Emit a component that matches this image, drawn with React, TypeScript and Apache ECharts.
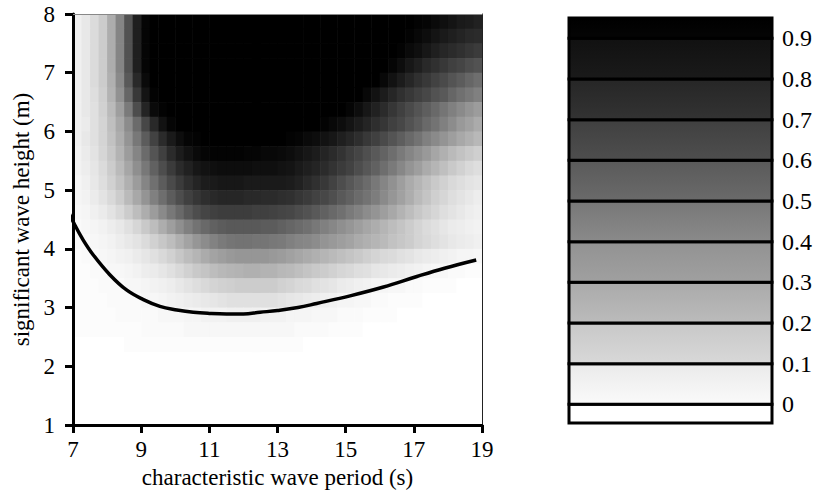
import React, { useEffect, useRef } from 'react';
import * as echarts from 'echarts';

// ---- data ----
const cellWidth = 0.25;
const cellHeight = 0.25;
const periodCenters = [7.125, 7.375, 7.625, 7.875, 8.125, 8.375, 8.625, 8.875, 9.125, 9.375, 9.625, 9.875, 10.125, 10.375, 10.625, 10.875, 11.125, 11.375, 11.625, 11.875, 12.125, 12.375, 12.625, 12.875, 13.125, 13.375, 13.625, 13.875, 14.125, 14.375, 14.625, 14.875, 15.125, 15.375, 15.625, 15.875, 16.125, 16.375, 16.625, 16.875, 17.125, 17.375, 17.625, 17.875, 18.125, 18.375, 18.625, 18.875];
const heightCenters = [7.875, 7.625, 7.375, 7.125, 6.875, 6.625, 6.375, 6.125, 5.875, 5.625, 5.375, 5.125, 4.875, 4.625, 4.375, 4.125, 3.875, 3.625, 3.375, 3.125, 2.875, 2.625, 2.375];
const probRows = [
  [0.06, 0.09, 0.14, 0.2, 0.32, 0.48, 0.68, 0.88, 0.98, 1, 1, 1, 1, 1, 1, 1, 1, 1, 1, 1, 1, 1, 1, 1, 1, 1, 1, 1, 1, 1, 1, 1, 1, 1, 1, 1, 1, 1, 1, 1, 0.99, 0.98, 0.96, 0.94, 0.92, 0.9, 0.89, 0.87],
  [0.06, 0.09, 0.14, 0.2, 0.32, 0.48, 0.68, 0.88, 0.98, 1, 1, 1, 1, 1, 1, 1, 1, 1, 1, 1, 1, 1, 1, 1, 1, 1, 1, 1, 1, 1, 1, 1, 1, 1, 1, 1, 1, 1, 1, 0.99, 0.97, 0.95, 0.92, 0.9, 0.88, 0.86, 0.84, 0.83],
  [0.06, 0.09, 0.14, 0.2, 0.32, 0.48, 0.68, 0.88, 0.98, 1, 1, 1, 1, 1, 1, 1, 1, 1, 1, 1, 1, 1, 1, 1, 1, 1, 1, 1, 1, 1, 1, 1, 1, 1, 1, 1, 1, 1, 0.99, 0.96, 0.94, 0.91, 0.88, 0.85, 0.83, 0.81, 0.79, 0.77],
  [0.06, 0.09, 0.14, 0.2, 0.32, 0.48, 0.68, 0.88, 0.98, 1, 1, 1, 1, 1, 1, 1, 1, 1, 1, 1, 1, 1, 1, 1, 1, 1, 1, 1, 1, 1, 1, 1, 1, 1, 1, 1, 1, 0.98, 0.95, 0.91, 0.88, 0.84, 0.81, 0.78, 0.75, 0.73, 0.7, 0.68],
  [0.06, 0.09, 0.14, 0.2, 0.31, 0.46, 0.65, 0.84, 0.96, 1, 1, 1, 1, 1, 1, 1, 1, 1, 1, 1, 1, 1, 1, 1, 1, 1, 1, 1, 1, 1, 1, 1, 1, 1, 1, 1, 0.97, 0.93, 0.89, 0.85, 0.81, 0.78, 0.74, 0.71, 0.67, 0.64, 0.6, 0.57],
  [0.06, 0.09, 0.13, 0.19, 0.3, 0.43, 0.6, 0.78, 0.92, 0.99, 1, 1, 1, 1, 1, 1, 1, 1, 1, 1, 1, 1, 1, 1, 1, 1, 1, 1, 1, 1, 1, 1, 1, 1, 0.97, 0.93, 0.89, 0.85, 0.81, 0.78, 0.75, 0.72, 0.68, 0.65, 0.6, 0.56, 0.53, 0.5],
  [0.06, 0.09, 0.12, 0.18, 0.27, 0.38, 0.52, 0.7, 0.86, 0.96, 0.99, 1, 1, 1, 1, 1, 1, 1, 1, 1, 1, 1, 1, 1, 1, 1, 1, 1, 1, 1, 1, 1, 0.98, 0.95, 0.91, 0.87, 0.83, 0.79, 0.75, 0.71, 0.67, 0.63, 0.59, 0.54, 0.5, 0.46, 0.42, 0.39],
  [0.06, 0.08, 0.12, 0.17, 0.25, 0.34, 0.45, 0.58, 0.72, 0.84, 0.93, 0.98, 1, 1, 1, 1, 1, 1, 1, 1, 1, 1, 1, 1, 1, 1, 1, 1, 1, 0.99, 0.97, 0.95, 0.92, 0.89, 0.86, 0.82, 0.79, 0.75, 0.72, 0.68, 0.64, 0.59, 0.55, 0.5, 0.45, 0.4, 0.37, 0.33],
  [0.06, 0.09, 0.12, 0.17, 0.24, 0.32, 0.42, 0.53, 0.64, 0.74, 0.83, 0.9, 0.95, 0.98, 0.99, 1, 1, 1, 1, 1, 1, 1, 1, 1, 1, 0.99, 0.98, 0.96, 0.95, 0.93, 0.91, 0.88, 0.85, 0.82, 0.78, 0.75, 0.71, 0.67, 0.63, 0.59, 0.55, 0.5, 0.46, 0.42, 0.38, 0.34, 0.31, 0.28],
  [0.05, 0.08, 0.11, 0.16, 0.22, 0.3, 0.39, 0.48, 0.58, 0.67, 0.75, 0.83, 0.89, 0.93, 0.96, 0.98, 0.99, 0.99, 0.99, 0.99, 0.98, 0.98, 0.97, 0.97, 0.96, 0.95, 0.93, 0.91, 0.89, 0.86, 0.83, 0.8, 0.76, 0.73, 0.69, 0.65, 0.61, 0.57, 0.52, 0.48, 0.44, 0.4, 0.35, 0.31, 0.27, 0.24, 0.21, 0.19],
  [0.05, 0.07, 0.1, 0.14, 0.2, 0.27, 0.35, 0.44, 0.53, 0.62, 0.7, 0.77, 0.83, 0.87, 0.91, 0.93, 0.94, 0.95, 0.95, 0.95, 0.95, 0.94, 0.94, 0.94, 0.93, 0.92, 0.9, 0.88, 0.86, 0.83, 0.8, 0.77, 0.74, 0.7, 0.66, 0.62, 0.57, 0.52, 0.47, 0.42, 0.38, 0.33, 0.29, 0.25, 0.21, 0.18, 0.15, 0.13],
  [0.04, 0.06, 0.09, 0.13, 0.18, 0.24, 0.31, 0.39, 0.48, 0.56, 0.64, 0.71, 0.77, 0.82, 0.86, 0.89, 0.9, 0.91, 0.91, 0.91, 0.9, 0.9, 0.9, 0.9, 0.9, 0.89, 0.87, 0.84, 0.81, 0.78, 0.74, 0.7, 0.66, 0.62, 0.58, 0.53, 0.48, 0.43, 0.38, 0.33, 0.29, 0.25, 0.21, 0.18, 0.15, 0.13, 0.11, 0.1],
  [0.04, 0.05, 0.08, 0.11, 0.15, 0.2, 0.27, 0.34, 0.42, 0.5, 0.57, 0.64, 0.7, 0.75, 0.79, 0.82, 0.84, 0.85, 0.85, 0.85, 0.84, 0.84, 0.83, 0.83, 0.82, 0.81, 0.79, 0.77, 0.74, 0.72, 0.69, 0.65, 0.62, 0.58, 0.55, 0.51, 0.46, 0.41, 0.37, 0.32, 0.27, 0.23, 0.19, 0.16, 0.13, 0.11, 0.09, 0.07],
  [0.03, 0.04, 0.06, 0.08, 0.11, 0.15, 0.2, 0.26, 0.32, 0.39, 0.46, 0.53, 0.59, 0.65, 0.7, 0.73, 0.75, 0.76, 0.76, 0.76, 0.76, 0.75, 0.75, 0.74, 0.73, 0.72, 0.7, 0.68, 0.65, 0.62, 0.59, 0.56, 0.52, 0.49, 0.45, 0.42, 0.38, 0.34, 0.3, 0.26, 0.22, 0.19, 0.16, 0.13, 0.11, 0.09, 0.07, 0.06],
  [0.02, 0.03, 0.04, 0.05, 0.07, 0.09, 0.12, 0.16, 0.21, 0.26, 0.32, 0.38, 0.44, 0.5, 0.55, 0.59, 0.62, 0.64, 0.65, 0.65, 0.65, 0.65, 0.64, 0.64, 0.62, 0.6, 0.58, 0.56, 0.53, 0.5, 0.47, 0.44, 0.41, 0.38, 0.35, 0.32, 0.29, 0.26, 0.23, 0.2, 0.17, 0.14, 0.12, 0.1, 0.08, 0.07, 0.06, 0.05],
  [0.02, 0.02, 0.03, 0.04, 0.05, 0.07, 0.09, 0.11, 0.14, 0.18, 0.22, 0.26, 0.31, 0.36, 0.41, 0.45, 0.49, 0.52, 0.54, 0.55, 0.55, 0.54, 0.54, 0.53, 0.52, 0.5, 0.48, 0.47, 0.45, 0.42, 0.4, 0.38, 0.36, 0.33, 0.31, 0.29, 0.27, 0.24, 0.22, 0.2, 0.17, 0.15, 0.13, 0.11, 0.09, 0.08, 0.07, 0.06],
  [0.01, 0.02, 0.02, 0.03, 0.04, 0.05, 0.06, 0.08, 0.1, 0.12, 0.15, 0.18, 0.22, 0.26, 0.29, 0.33, 0.36, 0.38, 0.4, 0.41, 0.41, 0.41, 0.41, 0.4, 0.39, 0.37, 0.35, 0.33, 0.31, 0.29, 0.27, 0.25, 0.23, 0.21, 0.19, 0.17, 0.15, 0.14, 0.12, 0.11, 0.09, 0.08, 0.07, 0.06, 0.05, 0.04, 0.04, 0.03],
  [0.01, 0.01, 0.02, 0.02, 0.03, 0.03, 0.04, 0.05, 0.07, 0.08, 0.1, 0.12, 0.15, 0.18, 0.21, 0.23, 0.26, 0.28, 0.29, 0.3, 0.31, 0.31, 0.3, 0.3, 0.28, 0.27, 0.25, 0.23, 0.21, 0.2, 0.18, 0.16, 0.15, 0.13, 0.12, 0.1, 0.09, 0.08, 0.07, 0.06, 0.05, 0.04, 0.03, 0.03, 0.02, 0.02, 0.01, 0.01],
  [0.01, 0.01, 0.01, 0.02, 0.02, 0.02, 0.03, 0.03, 0.04, 0.05, 0.06, 0.07, 0.09, 0.11, 0.13, 0.15, 0.17, 0.18, 0.19, 0.2, 0.2, 0.2, 0.2, 0.2, 0.18, 0.17, 0.15, 0.14, 0.12, 0.11, 0.1, 0.08, 0.07, 0.06, 0.05, 0.04, 0.04, 0.03, 0.03, 0.02, 0.02, 0.01, 0.01, 0.01, 0.01, 0, 0, 0],
  [0.01, 0.01, 0.01, 0.01, 0.02, 0.02, 0.02, 0.02, 0.03, 0.03, 0.04, 0.05, 0.06, 0.07, 0.08, 0.09, 0.1, 0.11, 0.12, 0.12, 0.12, 0.12, 0.12, 0.12, 0.11, 0.1, 0.09, 0.08, 0.07, 0.06, 0.05, 0.04, 0.04, 0.03, 0.03, 0.02, 0.02, 0.01, 0.01, 0.01, 0.01, 0, 0, 0, 0, 0, 0, 0],
  [0.01, 0.01, 0.01, 0.01, 0.01, 0.02, 0.02, 0.02, 0.02, 0.02, 0.03, 0.03, 0.03, 0.04, 0.04, 0.05, 0.05, 0.05, 0.06, 0.06, 0.06, 0.06, 0.05, 0.05, 0.05, 0.04, 0.04, 0.04, 0.03, 0.03, 0.03, 0.02, 0.02, 0.02, 0.01, 0.01, 0.01, 0.01, 0, 0, 0, 0, 0, 0, 0, 0, 0, 0],
  [0.01, 0.01, 0.01, 0.01, 0.01, 0.01, 0.01, 0.01, 0.02, 0.02, 0.02, 0.02, 0.02, 0.03, 0.03, 0.03, 0.03, 0.03, 0.03, 0.03, 0.03, 0.03, 0.03, 0.03, 0.03, 0.03, 0.02, 0.02, 0.02, 0.02, 0.01, 0.01, 0.01, 0.01, 0, 0, 0, 0, 0, 0, 0, 0, 0, 0, 0, 0, 0, 0],
  [0, 0, 0, 0, 0, 0, 0.01, 0.01, 0.01, 0.01, 0.01, 0.01, 0.01, 0.01, 0.01, 0.01, 0.01, 0.01, 0.01, 0.01, 0.01, 0.01, 0.01, 0.01, 0.01, 0.01, 0.01, 0, 0, 0, 0, 0, 0, 0, 0, 0, 0, 0, 0, 0, 0, 0, 0, 0, 0, 0, 0, 0],
];
const curvePeriods = [6.82, 7.05, 7.3, 7.59, 8.08, 8.57, 9.05, 9.55, 10.05, 10.53, 11.0, 11.5, 12.0, 12.49, 13.0, 13.6, 14.15, 15.13, 16.11, 17.09, 17.9, 18.83];
const curveHeights = [4.69, 4.41, 4.15, 3.9, 3.56, 3.3, 3.14, 3.02, 2.96, 2.92, 2.9, 2.89, 2.89, 2.92, 2.95, 3.0, 3.07, 3.2, 3.35, 3.53, 3.67, 3.81];
const xTicks = [7, 9, 11, 13, 15, 17, 19];
const yTicks = [1, 2, 3, 4, 5, 6, 7, 8];
const colorbarTicks = [0, 0.1, 0.2, 0.3, 0.4, 0.5, 0.6, 0.7, 0.8, 0.9];
const colorbarBandLow = [-0.046, 0, 0.1, 0.2, 0.3, 0.4, 0.5, 0.6, 0.7, 0.8, 0.9];
const colorbarBandHigh = [0, 0.1, 0.2, 0.3, 0.4, 0.5, 0.6, 0.7, 0.8, 0.9, 0.95];

// ---- styles ----
const bandTopColors = ['#ffffff', '#eaeaea', '#c8c8c8', '#aaaaaa', '#929292', '#777777', '#5a5a5a', '#404040', '#262626', '#111111', '#000000'];
const bandBottomColors = ['#ffffff', '#fafafa', '#d8d8d8', '#bbbbbb', '#a0a0a0', '#8a8a8a', '#6a6a6a', '#4e4e4e', '#333333', '#1a1a1a', '#050505'];
const FONT = 'Liberation Serif';

export default function App() {
  const ref = useRef<HTMLDivElement>(null);
  useEffect(() => {
    if (!ref.current) return;
    const chart = echarts.init(ref.current, undefined, { renderer: 'svg' });
    const heatData = heightCenters.flatMap((y, r) => periodCenters.map((x, c) => [x, y, probRows[r][c]]));
    const curveData = curvePeriods.map((x, i) => [x, curveHeights[i]]);
    const bandData = colorbarBandLow.map((lo, i) => [lo, colorbarBandHigh[i], i]);
    const labelStyle = { fontFamily: FONT, fontSize: 23, color: '#000' };

    chart.setOption({
      animation: false,
      textStyle: { fontFamily: FONT },
      grid: [
        { left: 73, right: 335, top: 14, bottom: 73, outerBoundsMode: 'none', containLabel: false },
        { left: 569, right: 45, top: 18, bottom: 75, outerBoundsMode: 'none', containLabel: false },
      ],
      visualMap: {
        type: 'continuous', show: false, min: 0, max: 1, dimension: 2, seriesIndex: 0,
        inRange: { color: ['#ffffff', '#000000'] },
      },
      xAxis: [
        {
          gridIndex: 0, type: 'value', min: 7, max: 19, z: 3,
          name: 'characteristic wave period (s)', nameLocation: 'middle', nameGap: 41,
          nameMoveOverlap: false,
          nameTextStyle: labelStyle,
          axisLine: { show: true, onZero: false, lineStyle: { color: '#000', width: 3 } },
          axisTick: { show: true, length: 8, customValues: xTicks, lineStyle: { color: '#000', width: 3 } },
          axisLabel: { customValues: xTicks, margin: 8, padding: [5, 0, 0, 0], ...labelStyle },
          splitLine: { show: false },
        },
        {
          gridIndex: 0, type: 'value', position: 'top', min: 7, max: 19, z: 3,
          axisLine: { show: true, onZero: false, lineStyle: { color: '#888', width: 1 } },
          axisTick: { show: false }, axisLabel: { show: false }, splitLine: { show: false },
        },
        { gridIndex: 1, type: 'value', min: 0, max: 1, show: false },
      ],
      yAxis: [
        {
          gridIndex: 0, type: 'value', min: 1, max: 8, z: 3,
          name: 'significant wave height (m)', nameLocation: 'middle', nameGap: 40,
          nameMoveOverlap: false,
          nameTextStyle: labelStyle,
          axisLine: { show: true, onZero: false, lineStyle: { color: '#000', width: 3 } },
          axisTick: { show: true, length: 8, customValues: yTicks, lineStyle: { color: '#000', width: 3 } },
          axisLabel: { customValues: yTicks, margin: 8, padding: [0, 10, 0, 0], ...labelStyle },
          splitLine: { show: false },
        },
        {
          gridIndex: 0, type: 'value', position: 'right', min: 1, max: 8, z: 3,
          axisLine: { show: true, onZero: false, lineStyle: { color: '#222', width: 1 } },
          axisTick: { show: false }, axisLabel: { show: false }, splitLine: { show: false },
        },
        {
          gridIndex: 1, type: 'value', position: 'right', min: -0.046, max: 0.95,
          axisLine: { show: false }, axisTick: { show: false }, splitLine: { show: false },
          axisLabel: {
            customValues: colorbarTicks, margin: 8, padding: [0, 0, 0, 2], ...labelStyle, fontSize: 24,
            formatter: (v: number) => (v === 0 ? '0' : Number(v).toFixed(1)),
          },
        },
      ],
      series: [
        {
          type: 'custom', xAxisIndex: 0, yAxisIndex: 0, clip: true, z: 1,
          encode: { x: 0, y: 1 },
          data: heatData,
          renderItem: (params: any, api: any) => {
            const x = api.value(0);
            const y = api.value(1);
            const tl = api.coord([x - cellWidth / 2, y + cellHeight / 2]);
            const br = api.coord([x + cellWidth / 2, y - cellHeight / 2]);
            return {
              type: 'rect',
              shape: { x: tl[0], y: tl[1], width: br[0] - tl[0] + 0.6, height: br[1] - tl[1] + 0.6 },
              style: { fill: api.visual('color'), stroke: null },
            };
          },
        },
        {
          type: 'line', xAxisIndex: 0, yAxisIndex: 0, data: curveData, smooth: 0.4,
          symbol: 'none', clip: false, z: 5,
          lineStyle: { color: '#000', width: 3.5 },
        },
        {
          type: 'custom', xAxisIndex: 2, yAxisIndex: 2, z: 2,
          encode: { y: [0, 1] },
          data: bandData,
          renderItem: (params: any, api: any) => {
            const lo = api.value(0);
            const hi = api.value(1);
            const idx = api.value(2);
            const tl = api.coord([0, hi]);
            const br = api.coord([1, lo]);
            return {
              type: 'rect',
              shape: { x: tl[0], y: tl[1], width: br[0] - tl[0], height: br[1] - tl[1] },
              style: {
                fill: new echarts.graphic.LinearGradient(0, 0, 0, 1, [
                  { offset: 0, color: bandTopColors[idx] },
                  { offset: 1, color: bandBottomColors[idx] },
                ]),
                stroke: '#000',
                lineWidth: 3,
              },
            };
          },
        },
      ],
    });
    return () => chart.dispose();
  }, []);
  return (
    <div
      ref={ref}
      style={{ position: 'fixed', left: 0, top: 0, width: 817, height: 498, background: '#fff' }}
    />
  );
}
